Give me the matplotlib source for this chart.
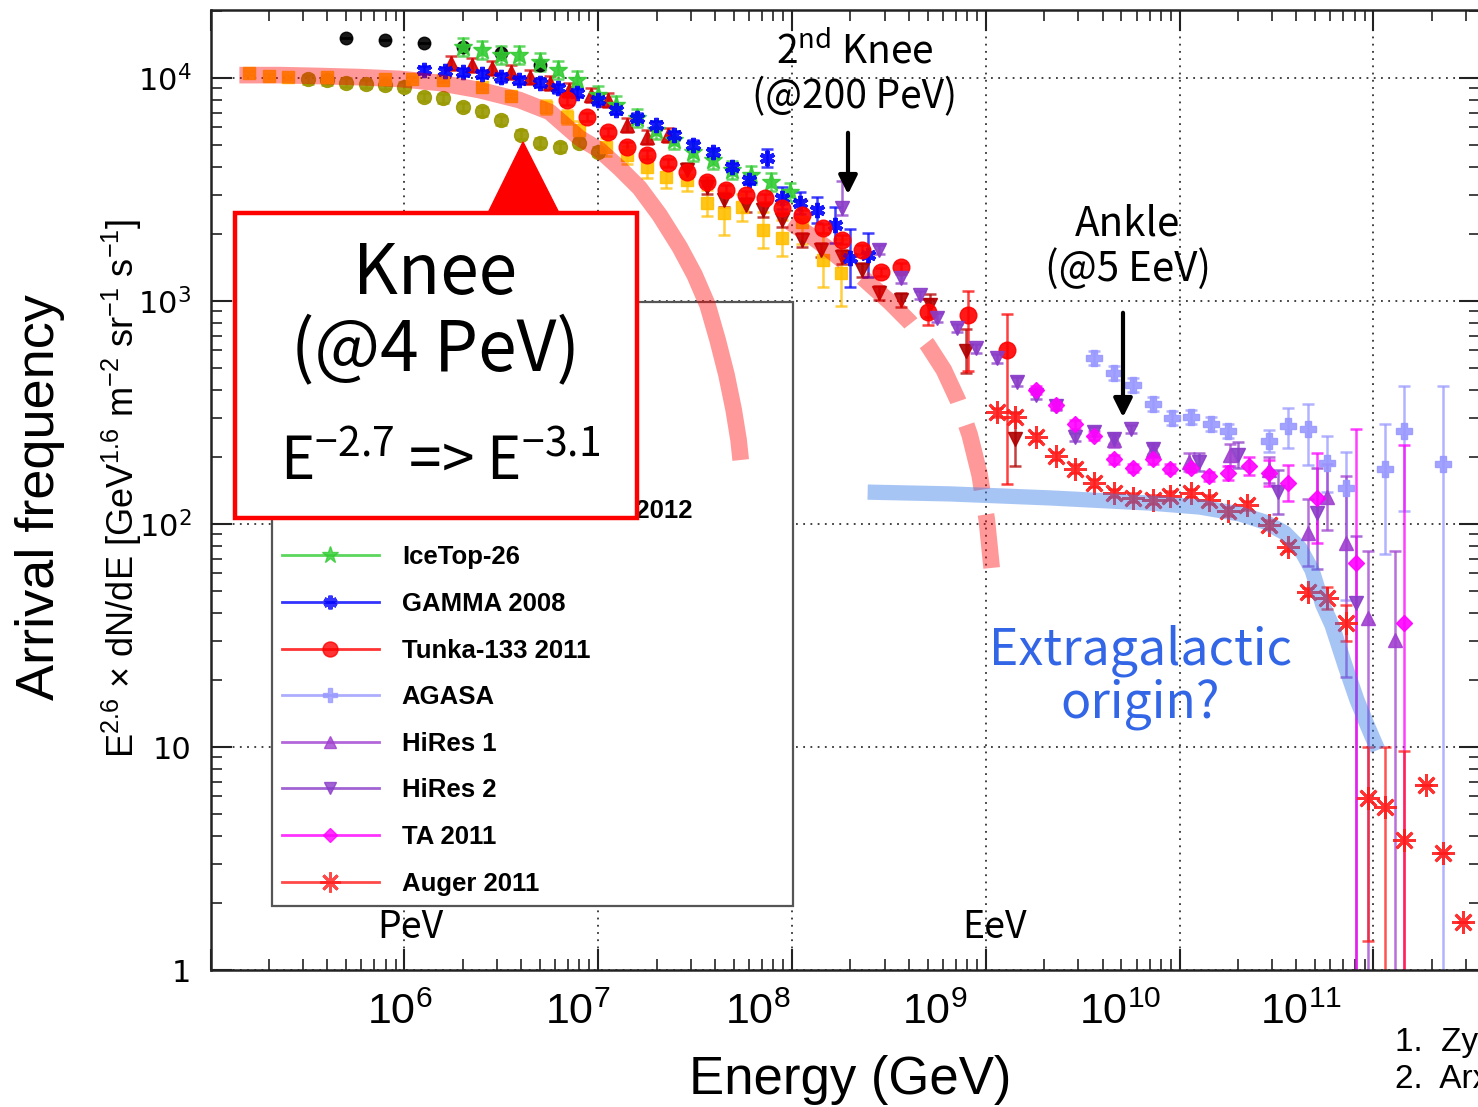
import matplotlib
matplotlib.use('Agg')
import matplotlib.pyplot as plt
import numpy as np
from matplotlib import ticker, transforms
from matplotlib.lines import Line2D
from matplotlib.patches import Rectangle, Polygon

plt.rcParams['mathtext.default'] = 'regular'

W, H = 1478, 1107
NARROW = ['Liberation Sans', 'DejaVu Sans']
JP = ['Noto Sans CJK JP', 'DejaVu Sans']

# ---- data: log10(E / GeV) and log10(E^2.6 dN/dE) ----
bk_le = [5.70, 5.90, 6.10, 6.30, 6.50, 6.70]
bk_lf = [4.18, 4.17, 4.157, 4.14, 4.11, 4.06]

ol_le = [5.5, 5.6, 5.7, 5.8, 5.9, 6.0, 6.1, 6.2, 6.3, 6.4, 6.5, 6.6, 6.7, 6.8, 6.9, 7.0]
ol_lf = [3.995, 3.99, 3.978, 3.973, 3.97, 3.96, 3.915, 3.91, 3.87, 3.85, 3.81, 3.745, 3.71, 3.69, 3.71, 3.67]

gd_le = [5.2, 5.3, 5.4, 5.6, 5.9, 6.04, 6.2, 6.4, 6.55, 6.73, 6.84, 6.90, 7.04, 7.15, 7.25, 7.35,
         7.46, 7.56, 7.65, 7.74, 7.85, 7.95, 8.05, 8.16, 8.25]
gd_lf = [4.022, 4.009, 4.004, 4.004, 3.996, 3.996, 3.99, 3.96, 3.92, 3.87, 3.825, 3.767, 3.691, 3.655,
         3.60, 3.556, 3.543, 3.44, 3.395, 3.42, 3.318, 3.283, 3.354, 3.184, 3.126]
gd_err = [0.01] * 9 + [0.03, 0.03, 0.04, 0.04, 0.04, 0.05, 0.05, 0.05, 0.06, 0.1, 0.06, 0.08, 0.08, 0.1, 0.12, 0.15]

kc_le = [6.24, 6.35, 6.45, 6.55, 6.65, 6.75, 6.85, 6.96, 7.05, 7.15, 7.25, 7.36]
kc_lf = [4.067, 4.058, 4.045, 4.027, 4.004, 3.978, 3.946, 3.924, 3.901, 3.79, 3.735, 3.744]

kg_le = [7.46, 7.56, 7.65, 7.76, 7.85, 7.95, 8.05, 8.15, 8.26, 8.36, 8.45, 8.56, 8.71, 8.90, 9.15]
kg_lf = [3.587, 3.511, 3.453, 3.430, 3.408, 3.363, 3.274, 3.229, 3.197, 3.139, 3.036, 3.004, 2.98, 2.776, 2.381]
kg_err = [0.03] * 12 + [0.05, 0.1, 0.12]

it_le = [6.30, 6.40, 6.50, 6.59, 6.70, 6.79, 6.89, 7.00, 7.09, 7.20, 7.30, 7.39, 7.49, 7.59, 7.69, 7.79, 7.89, 7.99]
it_lf = [4.139, 4.126, 4.103, 4.103, 4.072, 4.036, 3.991, 3.924, 3.879, 3.821, 3.767, 3.722, 3.668, 3.632,
         3.587, 3.565, 3.534, 3.489]

gm_le = [6.10, 6.21, 6.30, 6.40, 6.50, 6.59, 6.70, 6.79, 6.89, 7.00, 7.09, 7.20, 7.30, 7.39, 7.49, 7.59,
         7.69, 7.78, 7.87, 7.95, 8.04, 8.13, 8.22, 8.30, 8.39]
gm_lf = [4.036, 4.031, 4.027, 4.018, 4.004, 3.991, 3.978, 3.955, 3.933, 3.901, 3.857, 3.821, 3.789, 3.744,
         3.700, 3.668, 3.60, 3.543, 3.641, 3.462, 3.439, 3.408, 3.341, 3.193, 3.206]
gm_err = [0.02] * 18 + [0.04, 0.05, 0.05, 0.06, 0.08, 0.13, 0.1]

tk_le = [6.84, 6.94, 7.05, 7.15, 7.25, 7.36, 7.46, 7.56, 7.66, 7.76, 7.86, 7.95, 8.05, 8.16, 8.26, 8.36,
         8.46, 8.56, 8.70, 8.91, 9.11]
tk_lf = [3.901, 3.825, 3.758, 3.691, 3.655, 3.619, 3.578, 3.534, 3.498, 3.475, 3.462, 3.417, 3.386, 3.327,
         3.274, 3.229, 3.130, 3.152, 2.951, 2.937, 2.780]
tk_elo = [0.02] * 18 + [0.06, 0.25, 0.6]
tk_ehi = [0.02] * 18 + [0.06, 0.11, 0.16]

ag_le = [9.56, 9.66, 9.76, 9.86, 9.96, 10.06, 10.16, 10.25, 10.46, 10.56, 10.66, 10.76, 10.86, 11.06, 11.16, 11.36]
ag_lf = [2.744, 2.677, 2.623, 2.538, 2.475, 2.480, 2.448, 2.417, 2.372, 2.439, 2.426, 2.274, 2.161, 2.247, 2.417, 2.269]
ag_elo = [0.03] * 8 + [0.05, 0.1, 0.16, 0.13, 0.5, 0.38, 0.36, 3.0]
ag_ehi = [0.03] * 8 + [0.05, 0.08, 0.11, 0.12, 0.16, 0.2, 0.2, 0.35]

h1_le = [9.66, 9.86, 10.05, 10.26, 10.46, 10.66, 10.76, 10.86, 10.97, 11.11]
h1_lf = [2.377, 2.332, 2.278, 2.309, 2.242, 1.960, 2.121, 1.915, 1.578, 1.480]
h1_elo = [0.03, 0.03, 0.04, 0.05, 0.06, 0.15, 0.15, 0.6, 2.0, 2.0]
h1_ehi = [0.03, 0.03, 0.04, 0.05, 0.06, 0.15, 0.15, 0.3, 0.3, 0.4]

h2_le = [8.26, 8.45, 8.56, 8.66, 8.75, 8.85, 8.95, 9.06, 9.16, 9.26, 9.36, 9.46, 9.56, 9.66, 9.75, 9.86,
         10.10, 10.30, 10.51, 10.71, 10.91]
h2_lf = [3.417, 3.229, 3.103, 3.027, 2.924, 2.879, 2.789, 2.744, 2.637, 2.58, 2.53, 2.390, 2.413, 2.381,
         2.426, 2.336, 2.278, 2.309, 2.143, 2.049, 1.646]
h2_elo = [0.03] + [0.02] * 15 + [0.04, 0.06, 0.1, 0.25, 2.0]
h2_ehi = [0.12] + [0.02] * 15 + [0.04, 0.06, 0.1, 0.2, 0.3]

ta_le = [9.26, 9.36, 9.46, 9.56, 9.66, 9.76, 9.86, 9.95, 10.06, 10.15, 10.25, 10.36, 10.46, 10.56, 10.71, 10.91, 11.16]
ta_lf = [2.601, 2.534, 2.448, 2.395, 2.291, 2.251, 2.291, 2.247, 2.251, 2.215, 2.229, 2.260, 2.229, 2.184,
         2.117, 1.825, 1.556]
ta_elo = [0.02] * 10 + [0.03, 0.04, 0.06, 0.08, 0.2, 2.0, 2.0]
ta_ehi = [0.02] * 10 + [0.03, 0.04, 0.06, 0.08, 0.2, 0.6, 0.8]

au_le = [9.06, 9.15, 9.26, 9.36, 9.46, 9.56, 9.66, 9.76, 9.86, 9.95, 10.06, 10.15, 10.25, 10.35, 10.46,
         10.56, 10.66, 10.76, 10.86, 10.97, 11.06, 11.16, 11.27, 11.36, 11.46]
au_lf = [2.502, 2.480, 2.390, 2.305, 2.247, 2.184, 2.139, 2.117, 2.108, 2.126, 2.139, 2.108, 2.058, 2.085,
         1.996, 1.897, 1.695, 1.668, 1.556, 0.771, 0.731, 0.583, 0.830, 0.525, 0.215]
au_elo = [0.02] * 17 + [0.05, 0.08, 0.64, 1.0, 1.0, 0, 0, 0]
au_ehi = [0.02] * 17 + [0.05, 0.08, 0.23, 0.27, 0.4, 0, 0, 0]

# hand-drawn guide curves
knee_le = [5.148, 5.355, 5.561, 5.768, 5.974, 6.181, 6.387, 6.594, 6.749, 6.903, 7.007, 7.110, 7.213,
           7.316, 7.420, 7.497, 7.564, 7.616, 7.662, 7.699, 7.724, 7.735]
knee_lf = [4.013, 4.013, 4.009, 4.004, 3.996, 3.978, 3.946, 3.901, 3.848, 3.731, 3.677, 3.596, 3.507,
           3.386, 3.242, 3.117, 2.982, 2.825, 2.668, 2.511, 2.377, 2.287]
knee2_le = [7.988, 8.091, 8.194, 8.297, 8.401, 8.504, 8.607, 8.700, 8.783, 8.855, 8.917, 8.968, 9.005, 9.030]
knee2_lf = [3.354, 3.296, 3.229, 3.157, 3.076, 2.996, 2.906, 2.803, 2.691, 2.556, 2.399, 2.220, 2.018, 1.803]
xgal_le = [8.390, 8.814, 9.330, 9.846, 10.104, 10.311, 10.440, 10.543, 10.621, 10.683, 10.739, 10.786,
           10.853, 10.915, 10.972, 11.023]
xgal_lf = [2.143, 2.135, 2.117, 2.094, 2.076, 2.045, 2.009, 1.960, 1.892, 1.794, 1.637, 1.547, 1.368,
           1.211, 1.090, 0.987]

xtick_pos = [5.974, 6.893, 7.822, 8.736, 9.696, 10.626]
xtick_lab = ['$10^{6}$', '$10^{7}$', '$10^{8}$', '$10^{9}$', '$10^{10}$', '$10^{11}$']
ytick_val = [1, 10, 100, 1000, 10000]
ytick_lab = ['1', '10', '$10^{2}$', '$10^{3}$', '$10^{4}$']

# (label, logE, logF, err_lo, err_hi, color, marker, size, edge width)
series = [
    ('Grigorov', bk_le, bk_lf, 0, 0, 'black', 'o', 9, 1),
    ('Tibet-III', ol_le, ol_lf, 0.02, 0.02, '#999900', 'o', 10, 1),
    ('Tibet ASγ 2008', gd_le, gd_lf, gd_err, gd_err, '#ffbf00', 's', 9, 1),
    ('KASCADE 2005', kc_le, kc_lf, 0.03, 0.03, '#d40000', '^', 10, 1),
    ('KASCADE-Grande 2012', kg_le, kg_lf, kg_err, kg_err, '#b00000', 'v', 10, 1),
    ('IceTop-26', it_le, it_lf, 0.04, 0.04, '#33cc33', '*', 14, 1),
    ('GAMMA 2008', gm_le, gm_lf, gm_err, gm_err, '#0000ff', (6, 2, 0), 11, 3),
    ('Tunka-133 2011', tk_le, tk_lf, tk_elo, tk_ehi, '#ff0000', 'o', 12, 1),
    ('AGASA', ag_le, ag_lf, ag_elo, ag_ehi, '#9999ff', 'P', 11, 1),
    ('HiRes 1', h1_le, h1_lf, h1_elo, h1_ehi, '#a040d0', '^', 10, 1),
    ('HiRes 2', h2_le, h2_lf, h2_elo, h2_ehi, '#8a3cc8', 'v', 10, 1),
    ('TA 2011', ta_le, ta_lf, ta_elo, ta_ehi, '#ff00ff', 'D', 8, 1),
    ('Auger 2011', au_le, au_lf, au_elo, au_ehi, '#ff1a1a', (8, 2, 0), 16, 2),
]

fig = plt.figure(figsize=(W / 100, H / 100), dpi=100)
ax = fig.add_axes([210.7 / W, 1 - 970 / H, (1480 - 210.7) / W, 960 / H])
ax.set_xscale('log')
ax.set_yscale('log')
ax.set_xlim(1e5, 10 ** 11.55)
ax.set_ylim(1, 10 ** 4.305)

handles = []
for lab, le, lf, elo, ehi, c, m, ms, mew in series:
    e = 10 ** np.asarray(le)
    f = 10 ** np.asarray(lf)
    lo = np.broadcast_to(np.asarray(elo, float), f.shape)
    hi = np.broadcast_to(np.asarray(ehi, float), f.shape)
    yerr = [f * (1 - 10 ** -lo), f * (10 ** hi - 1)]
    ax.errorbar(e, f, yerr=yerr, fmt='none', ecolor=c, elinewidth=1.8, capsize=4, capthick=1.8,
                alpha=0.75, zorder=2)
    ax.plot(e, f, ls='none', marker=m, ms=ms, color=c, mec=c, mew=mew, alpha=0.9, zorder=3)
    handles.append(Line2D([], [], color=c, marker=m, ms=ms * 0.9, mec=c, mew=mew, lw=2, alpha=0.8))

# guide bands
ax.plot(10 ** np.asarray(knee_le), 10 ** np.asarray(knee_lf), color='red', alpha=0.4, lw=12,
        solid_capstyle='butt', solid_joinstyle='round', zorder=6)
ax.plot(10 ** np.asarray(knee2_le), 10 ** np.asarray(knee2_lf), color='red', alpha=0.4, lw=12,
        ls=(0, (4.0, 1.5)), dash_capstyle='butt', zorder=6)
ax.plot(10 ** np.asarray(xgal_le), 10 ** np.asarray(xgal_lf), color='#3d7fe8', alpha=0.45, lw=11,
        solid_capstyle='butt', solid_joinstyle='round', zorder=6)

# axes cosmetics
for s in ax.spines.values():
    s.set_linewidth(1.8)
    s.set_color('#222222')
for axis in (ax.xaxis, ax.yaxis):
    axis.set_major_locator(ticker.LogLocator(base=10, numticks=15))
    axis.set_minor_locator(ticker.LogLocator(base=10, subs=np.arange(2, 10), numticks=15))
    axis.set_minor_formatter(ticker.NullFormatter())
ax.tick_params(which='both', direction='in', top=True, right=True, labelbottom=False, color='#222222')
ax.tick_params(which='major', length=15, width=1.5)
ax.tick_params(which='minor', length=8, width=1.2)
ax.set_yticks(ytick_val)
ax.set_yticklabels(ytick_lab, fontsize=22, family='DejaVu Sans')
ax.tick_params(axis='y', pad=14)
ax.grid(True, which='major', ls=(0, (1, 3)), color='#333333', lw=1.3)

trans = transforms.blended_transform_factory(ax.transData, ax.transAxes)
for p, t in zip(xtick_pos, xtick_lab):
    ax.text(10 ** p, -0.045, t, transform=trans, ha='center', va='center', fontsize=31,
            family=NARROW, clip_on=False)

leg = ax.legend(handles, [s[0] for s in series], loc='upper left',
                bbox_to_anchor=(272 / W, 1 - 905 / H, 521 / W, 603 / H), bbox_transform=fig.transFigure,
                mode='expand', borderaxespad=0,
                prop={'family': 'Liberation Sans', 'weight': 'bold', 'size': 18.5},
                handlelength=3.75, handletextpad=0.9, labelspacing=0.88, borderpad=0.4,
                fancybox=False, framealpha=1, edgecolor='#555555')
leg.get_frame().set_linewidth(1.6)
leg.set_zorder(5)


def fx(x):
    return x / W


def fy(y):
    return 1 - y / H


# Knee callout box
fig.patches.append(Rectangle((fx(235), fy(518)), (637 - 235) / W, (518 - 213) / H, transform=fig.transFigure,
                             facecolor='white', edgecolor='#ff0000', lw=3.2, zorder=10))
fig.patches.append(Polygon([(fx(488), fy(213)), (fx(523), fy(142)), (fx(559), fy(213))], closed=True,
                           transform=fig.transFigure, facecolor='#ff0000', edgecolor='#ff0000', zorder=10))
fig.text(fx(435), fy(313), 'Knee\n(@4 PeV)', ha='center', va='center', fontsize=50, family=JP,
         linespacing=1.1, zorder=11)
fig.text(fx(440), fy(464), 'E$^{-2.7}$ => E$^{-3.1}$', ha='center', va='center', fontsize=42, family=JP, zorder=11)

# other annotations
fig.text(fx(855), fy(52), '2$^{nd}$ Knee', ha='center', va='center', fontsize=28, family=JP)
fig.text(fx(855), fy(97), '(@200 PeV)', ha='center', va='center', fontsize=28, family=JP)
ax.annotate('', xy=(fx(848), fy(197)), xytext=(fx(848), fy(130)), xycoords='figure fraction',
            textcoords='figure fraction', arrowprops=dict(arrowstyle='-|>', lw=3, color='black',
                                                          mutation_scale=28), zorder=12)
fig.text(fx(1128), fy(247), 'Ankle\n(@5 EeV)', ha='center', va='center', fontsize=29, family=JP,
         linespacing=1.1)
ax.annotate('', xy=(fx(1123), fy(420)), xytext=(fx(1123), fy(310)), xycoords='figure fraction',
            textcoords='figure fraction', arrowprops=dict(arrowstyle='-|>', lw=3, color='black',
                                                          mutation_scale=28), zorder=12)
fig.text(fx(1140), fy(677), 'Extragalactic\norigin?', ha='center', va='center', fontsize=36, family=JP,
         color='#3366e6', linespacing=1.0)
fig.text(fx(410), fy(927), 'PeV', ha='center', va='center', fontsize=27, family=JP)
fig.text(fx(995), fy(927), 'EeV', ha='center', va='center', fontsize=27, family=JP)

# axis titles
fig.text(fx(40), fy(497), 'Arrival frequency', rotation=90, ha='center', va='center', fontsize=39, family=NARROW)
fig.text(fx(122), fy(488), 'E$^{2.6}$ × dN/dE [GeV$^{1.6}$ m$^{-2}$ sr$^{-1}$ s$^{-1}$]', rotation=90,
         ha='center', va='center', fontsize=26, family=NARROW)
fig.text(fx(850), fy(1080), 'Energy (GeV)', ha='center', va='center', fontsize=38, family=NARROW)
fig.text(fx(1395), fy(1043), '1.  Zyla et al., PDG (2020)', ha='left', va='center', fontsize=24, family=NARROW)
fig.text(fx(1395), fy(1080), '2.  Arxiv', ha='left', va='center', fontsize=24, family=NARROW)

fig.savefig('out.png', dpi=100)
